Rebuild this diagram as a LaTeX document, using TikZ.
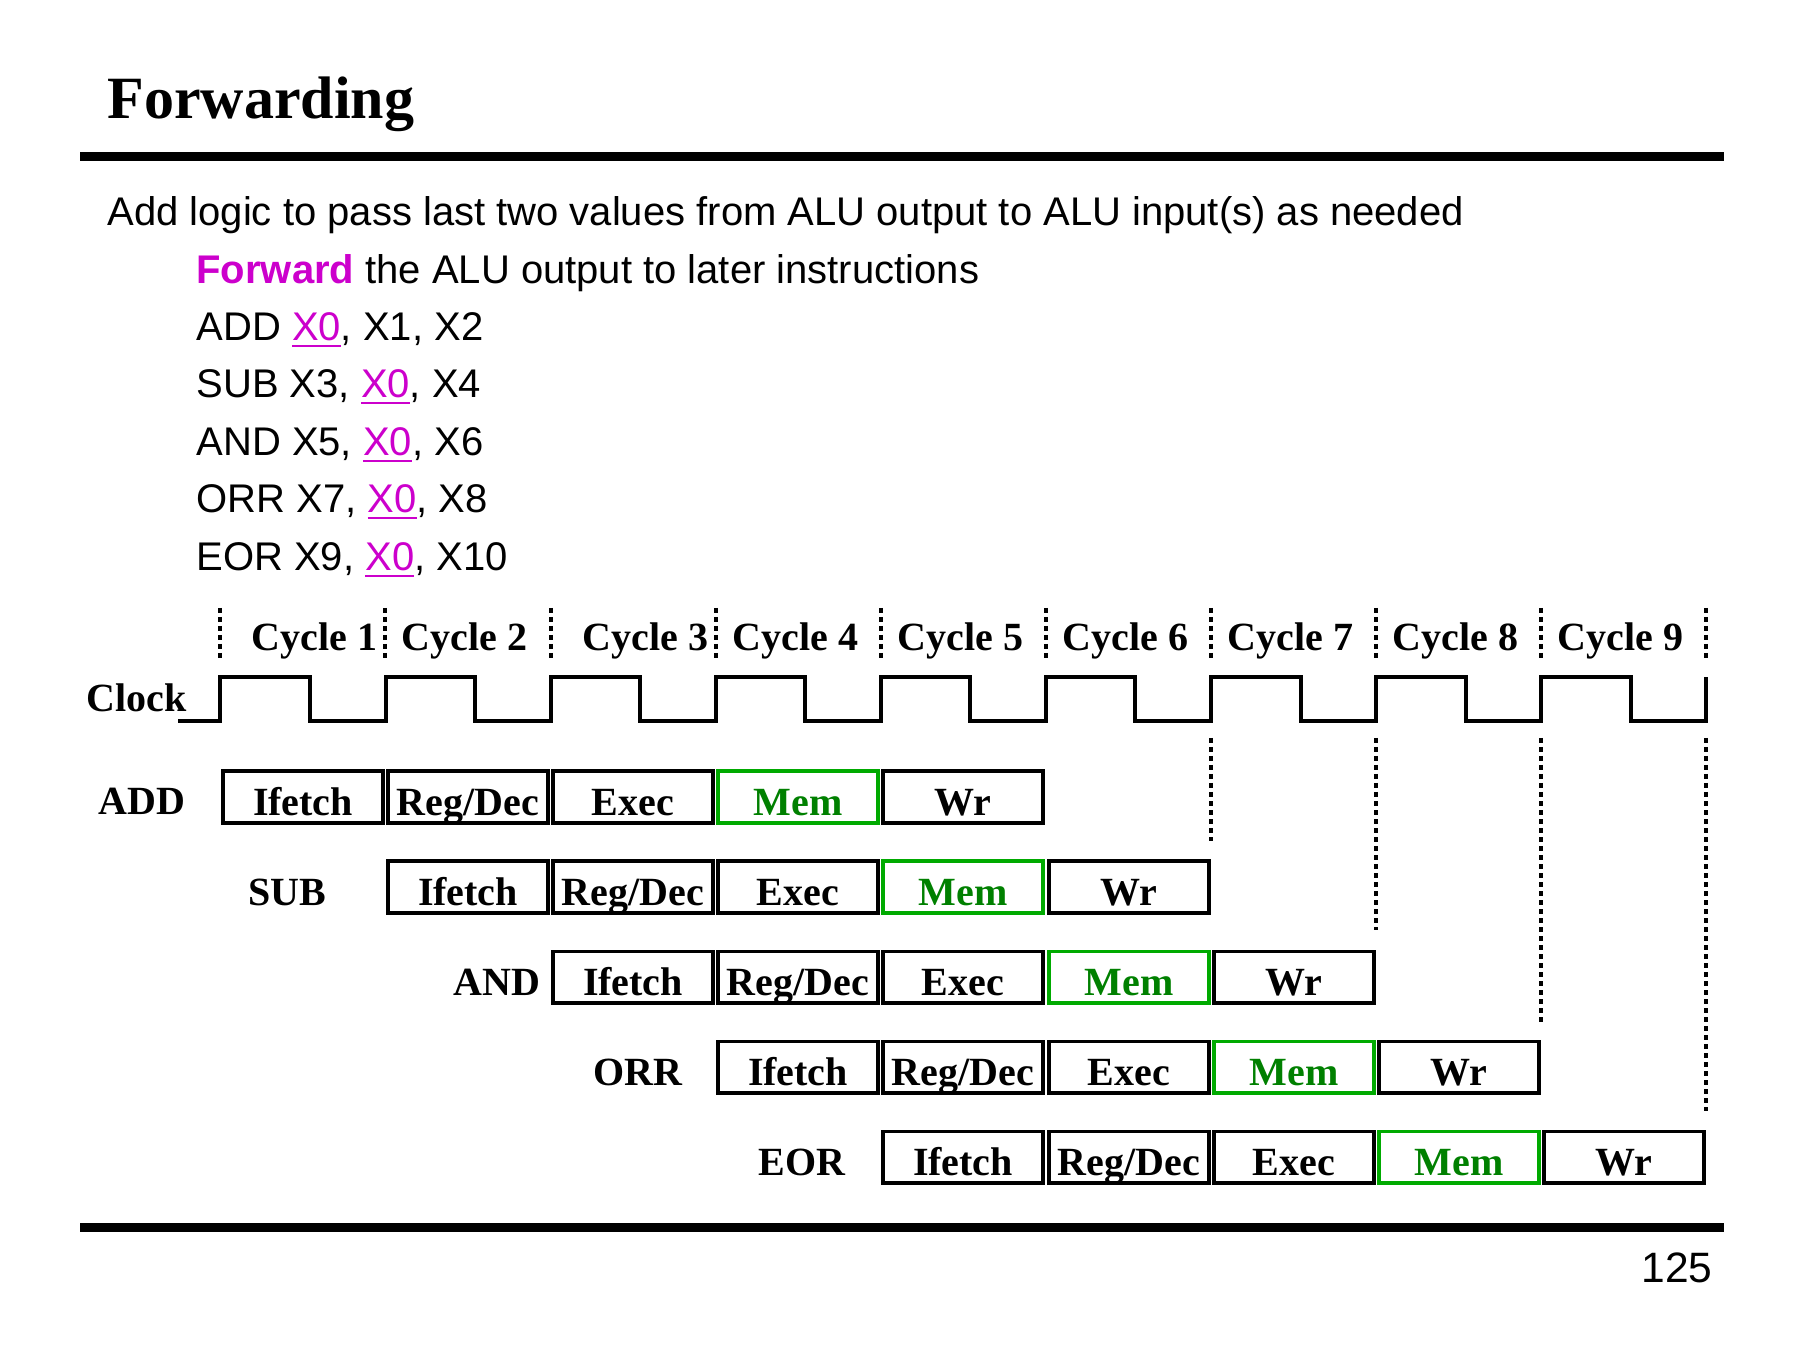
\documentclass[tikz,border=0pt]{standalone}
\usepackage{fontspec}
\setmainfont{Liberation Serif}
\newfontfamily\arialfont{Liberation Sans}
\definecolor{fwdpink}{RGB}{204,0,204}
\definecolor{memgreen}{RGB}{0,170,0}
\definecolor{memtext}{RGB}{0,128,0}
\newsavebox{\regbox}
\newcommand{\fwdreg}{\textcolor{fwdpink}{\sbox{\regbox}{X0}\rlap{\rule[-2.6pt]{\wd\regbox}{0.8pt}}\usebox{\regbox}}}

\begin{document}
\begin{tikzpicture}[
    x=0.4pt, y=-0.4pt,
    title/.style={
        anchor=base west,
        inner sep=0pt,
        font=\fontsize{24}{28}\selectfont\bfseries
    },
    bodytext/.style={
        anchor=base west,
        inner sep=0pt,
        font=\arialfont\fontsize{16}{19}\selectfont
    },
    cyclename/.style={
        anchor=base west,
        inner sep=0pt,
        font=\fontsize{16}{19}\selectfont\bfseries
    },
    rowname/.style={
        anchor=base east,
        inner sep=0pt,
        font=\fontsize{16}{19}\selectfont\bfseries
    },
    stage/.style={
        rectangle,
        draw=black,
        line width=1.5pt,
        minimum width=64.2pt,
        minimum height=20.5pt,
        inner sep=0pt,
        text height=14.6pt,
        text depth=0pt,
        font=\fontsize{16}{19}\selectfont\bfseries
    },
    memstage/.style={stage, draw=memgreen, text=memtext},
    rule/.style={line width=3.6pt},
    tick/.style={line width=1.3pt, dash pattern=on 2pt off 1.6pt},
    wave/.style={line width=1.6pt}
]
\useasboundingbox (0,0) rectangle (1800,1350);

% Title and rules
\node[title] (title) at (107,119) {Forwarding};
\draw[rule] (80,157) -- (1724,157);
\draw[rule] (80,1227) -- (1724,1227);
\node[anchor=base east, inner sep=0pt, font=\arialfont\fontsize{17}{20}\selectfont] (pagenum) at (1713,1282) {125};

% Text
\node[bodytext] (intro) at (107,226) {Add logic to pass last two values from ALU output to ALU input(s) as needed};
\node[bodytext] (fwd) at (196,284) {\textcolor{fwdpink}{\bfseries Forward} the ALU output to later instructions};
\node[bodytext] (iadd) at (196,341) {ADD \fwdreg, X1, X2};
\node[bodytext] (isub) at (196,398) {SUB X3, \fwdreg, X4};
\node[bodytext] (iand) at (196,456) {AND X5, \fwdreg, X6};
\node[bodytext] (iorr) at (196,513) {ORR X7, \fwdreg, X8};
\node[bodytext] (ieor) at (196,571) {EOR X9, \fwdreg, X10};

% Cycles
\foreach \x in {220,385,551,716,881,1046,1211,1376,1541,1706}
    \draw[tick] (\x,608) -- (\x,662);
\node[cyclename] (cyc1) at (251,651) {Cycle 1};
\node[cyclename] (cyc2) at (401,651) {Cycle 2};
\node[cyclename] (cyc3) at (582,651) {Cycle 3};
\node[cyclename] (cyc4) at (732,651) {Cycle 4};
\node[cyclename] (cyc5) at (897,651) {Cycle 5};
\node[cyclename] (cyc6) at (1062,651) {Cycle 6};
\node[cyclename] (cyc7) at (1227,651) {Cycle 7};
\node[cyclename] (cyc8) at (1392,651) {Cycle 8};
\node[cyclename] (cyc9) at (1557,651) {Cycle 9};

% Clock
\node[cyclename] (clock) at (86,712) {Clock};
\draw[wave] (178,721) -- (220.4,721)
    \foreach \i in {1,...,9} { -- ++(0,-43.7) -- ++(89.5,0) -- ++(0,43.7) -- ++(75.6,0) }
    -- ++(0,-43.7);

% Guides
\draw[tick] (1211,738) -- (1211,841);
\draw[tick] (1376,738) -- (1376,930);
\draw[tick] (1541,738) -- (1541,1022);
\draw[tick] (1706,738) -- (1706,1111);

% ADD
\node[rowname] (nadd) at (186,815) {ADD};
\node[stage] (add1) at (303,797) {Ifetch};
\node[stage] (add2) at (468,797) {Reg/Dec};
\node[stage] (add3) at (633,797) {Exec};
\node[memstage] (add4) at (798,797) {Mem};
\node[stage] (add5) at (963,797) {Wr};

% SUB
\node[rowname] (nsub) at (327,905) {SUB};
\node[stage] (sub1) at (468,887) {Ifetch};
\node[stage] (sub2) at (633,887) {Reg/Dec};
\node[stage] (sub3) at (798,887) {Exec};
\node[memstage] (sub4) at (963,887) {Mem};
\node[stage] (sub5) at (1129,887) {Wr};

% AND
\node[rowname] (nand) at (541,995) {AND};
\node[stage] (and1) at (633,977) {Ifetch};
\node[stage] (and2) at (798,977) {Reg/Dec};
\node[stage] (and3) at (963,977) {Exec};
\node[memstage] (and4) at (1129,977) {Mem};
\node[stage] (and5) at (1294,977) {Wr};

% ORR
\node[rowname] (norr) at (683,1085) {ORR};
\node[stage] (orr1) at (798,1067) {Ifetch};
\node[stage] (orr2) at (963,1067) {Reg/Dec};
\node[stage] (orr3) at (1129,1067) {Exec};
\node[memstage] (orr4) at (1294,1067) {Mem};
\node[stage] (orr5) at (1459,1067) {Wr};

% EOR
\node[rowname] (neor) at (846,1175) {EOR};
\node[stage] (eor1) at (963,1157) {Ifetch};
\node[stage] (eor2) at (1129,1157) {Reg/Dec};
\node[stage] (eor3) at (1294,1157) {Exec};
\node[memstage] (eor4) at (1459,1157) {Mem};
\node[stage] (eor5) at (1624,1157) {Wr};

\end{tikzpicture}
\end{document}
